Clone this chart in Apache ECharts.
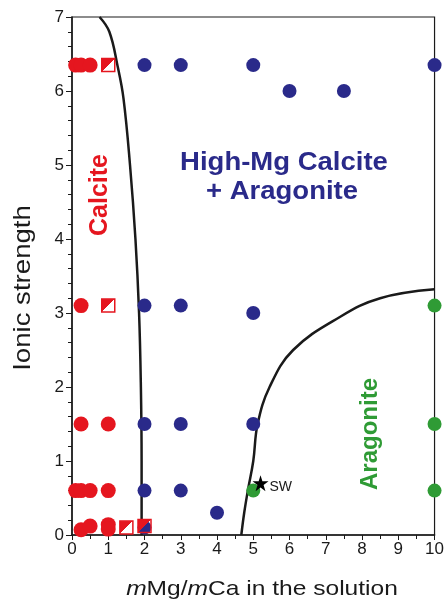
<!DOCTYPE html>
<html><head><meta charset="utf-8">
<script src="https://cdn.jsdelivr.net/npm/echarts@6/dist/echarts.min.js"></script>
<style>html,body{margin:0;padding:0;background:#fff}#c{width:447px;height:600px}</style>
</head><body><div id="c"></div>
<script>
// Calcite experiments (red circles)
const calciteCircles = [[0.1,6.35],[0.25,6.35],[0.5,6.35],[0.25,3.1],[0.25,1.5],[1,1.5],[0.1,0.6],[0.25,0.6],[0.5,0.6],[1,0.6],[0.25,0.07],[0.5,0.12],[1,0.14],[1,0.08]];
// Calcite + minor aragonite (half squares)
const halfSquares = [[1,6.35],[1,3.1],[1.5,0.1],[2,0.12]];
// High-Mg calcite + aragonite (blue)
const hmcArag = [[2,6.35],[3,6.35],[5,6.35],[10,6.35],[6,6.0],[7.5,6.0],[2,3.1],[3,3.1],[5,3.0],[2,1.5],[3,1.5],[5,1.5],[2,0.6],[3,0.6],[4,0.3],[2,0.1]];
// Aragonite (green)
const aragonite = [[10,3.1],[10,1.5],[10,0.6],[5,0.6]];
// Seawater
const seawater = [[5.2,0.7]];
// Boundaries
const boundaryCalcite = [[0.76,7],[1.03,6.8],[1.26,6.33],[1.42,5.9],[1.6,5.0],[1.75,4.0],[1.85,3.0],[1.9,2.0],[1.92,1.0],[1.92,0]];
const boundaryArag = [[4.67,0],[4.75,0.3],[4.85,0.6],[5.0,1.0],[5.12,1.5],[5.45,2.0],[6.1,2.5],[7.4,2.95],[8.5,3.2],[10,3.32]];
const xTicks = [0,1,2,3,4,5,6,7,8,9,10];
const yTicks = [0,1,2,3,4,5,6,7];

const RED='#e5161f', BLUE='#2a2a8a', GREEN='#2f9b35', INK='#1a1a1a';
const FONT='"Liberation Sans", Arial, sans-serif';
const chart = echarts.init(document.getElementById('c'));
chart.setOption({
  animation:false,
  grid:{left:72,right:12,top:17,bottom:65,show:true,borderColor:INK,borderWidth:1.2,backgroundColor:'transparent'},
  xAxis:{type:'value',min:xTicks[0],max:xTicks[xTicks.length-1],interval:1,
    axisLine:{lineStyle:{color:INK,width:1.5}},
    axisTick:{show:true,length:5,lineStyle:{color:INK}},
    minorTick:{show:true,splitNumber:2,length:4,lineStyle:{color:INK}},
    splitLine:{show:false},
    axisLabel:{color:INK,fontSize:17,fontFamily:FONT,margin:6}},
  yAxis:{type:'value',min:yTicks[0],max:yTicks[yTicks.length-1],interval:1,
    axisLine:{lineStyle:{color:INK,width:1.5}},
    axisTick:{show:true,length:6,lineStyle:{color:INK}},
    minorTick:{show:true,splitNumber:5,length:4,lineStyle:{color:INK}},
    splitLine:{show:false},
    axisLabel:{color:INK,fontSize:17,fontFamily:FONT,margin:8}},
  series:[
    {type:'line',data:boundaryCalcite,smooth:0.4,symbol:'none',lineStyle:{color:INK,width:2.5},z:3},
    {type:'line',data:boundaryArag,smooth:0.4,symbol:'none',lineStyle:{color:INK,width:2.5},z:3},
    {type:'scatter',data:hmcArag,symbol:'circle',symbolSize:14,itemStyle:{color:BLUE,opacity:1},z:4},
    {type:'scatter',data:aragonite,symbol:'circle',symbolSize:14,itemStyle:{color:GREEN,opacity:1},z:4},
    {type:'scatter',data:calciteCircles,symbol:'circle',symbolSize:15,itemStyle:{color:RED,opacity:1},z:5},
    {type:'scatter',data:halfSquares,symbol:'rect',symbolSize:13,z:5,
      itemStyle:{opacity:1,borderColor:RED,borderWidth:1.5,
        color:new echarts.graphic.LinearGradient(0,0,1,1,[{offset:0,color:RED},{offset:0.5,color:RED},{offset:0.5,color:'rgba(255,255,255,0)'},{offset:1,color:'rgba(255,255,255,0)'}])}},
    {type:'scatter',data:seawater,symbol:'path://M50,0 L61.8,36.2 L100,36.2 L69.1,58.8 L80.9,95.1 L50,72.7 L19.1,95.1 L30.9,58.8 L0,36.2 L38.2,36.2 Z',symbolSize:16,itemStyle:{color:'#000',opacity:1},z:6,
      label:{show:true,formatter:'SW',position:'right',distance:1,offset:[0,4],color:INK,fontSize:14,fontFamily:FONT}}
  ],
  graphic:[
    {type:'text',x:262,y:589,scaleX:1.17,style:{text:'{i|m}Mg/{i|m}Ca in the solution',fill:INK,font:'21px '+FONT,textAlign:'center',textVerticalAlign:'middle',
      rich:{i:{fontStyle:'italic',fontSize:21,fontFamily:FONT,fill:INK}}}},
    {type:'text',x:23,y:288,rotation:Math.PI/2,scaleX:1.15,style:{text:'Ionic strength',fill:INK,font:'24px '+FONT,textAlign:'center',textVerticalAlign:'middle'}},
    {type:'text',x:100,y:195,rotation:Math.PI/2,style:{text:'Calcite',fill:RED,font:'bold 25px '+FONT,textAlign:'center',textVerticalAlign:'middle'}},
    {type:'text',x:284,y:163,scaleX:1.1,style:{text:'High-Mg Calcite',fill:BLUE,font:'bold 25px '+FONT,textAlign:'center',textVerticalAlign:'middle'}},
    {type:'text',x:282,y:192,scaleX:1.1,style:{text:'+ Aragonite',fill:BLUE,font:'bold 25px '+FONT,textAlign:'center',textVerticalAlign:'middle'}},
    {type:'text',x:370,y:434,rotation:Math.PI/2,style:{text:'Aragonite',fill:GREEN,font:'bold 24px '+FONT,textAlign:'center',textVerticalAlign:'middle'}}
  ]
});
</script></body></html>
